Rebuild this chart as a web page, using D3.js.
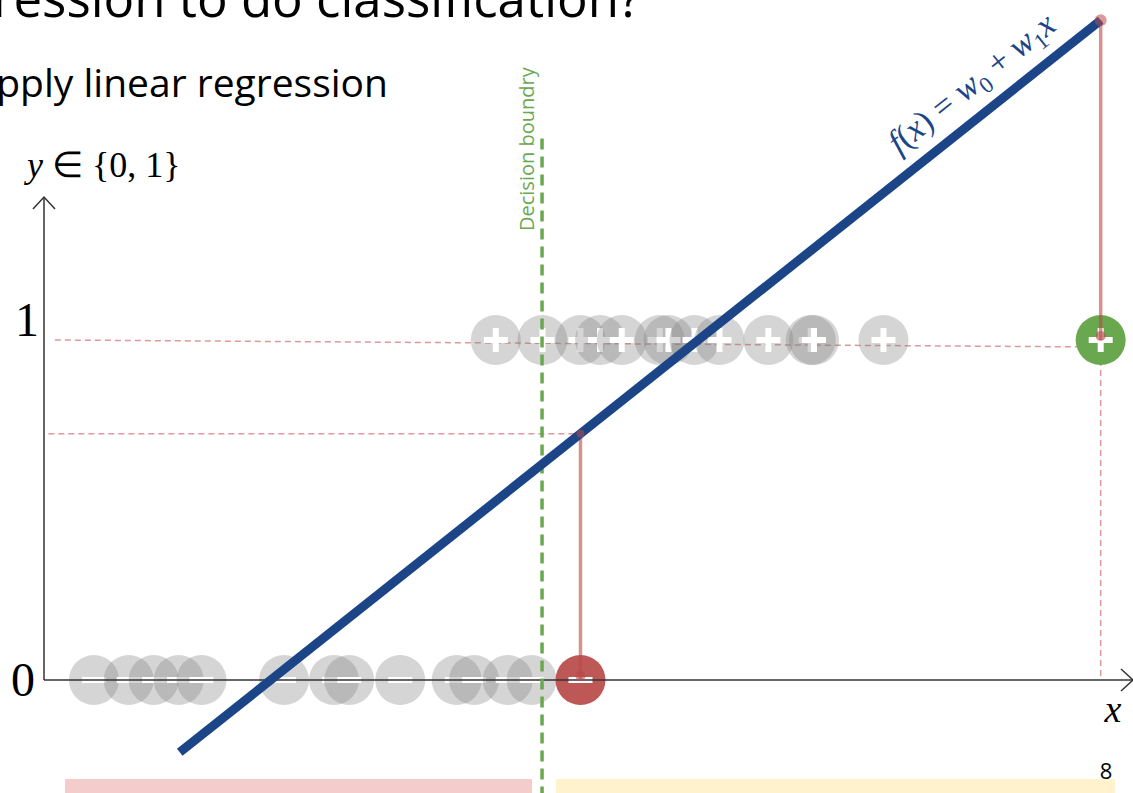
<!DOCTYPE html>
<html>
<head>
<meta charset="utf-8">
<script src="https://cdn.jsdelivr.net/npm/d3@7"></script>
<style>
  body { margin: 0; background: #fff; overflow: hidden; }
  svg { display: block; }
</style>
</head>
<body>
<div id="chart"></div>
<script>
// points on the y = 0 line (negative class) and y = 1 line (positive class)
const negX = [0.46, 0.78, 1.01, 1.24, 1.45, 2.21, 2.67, 2.81, 3.28, 3.80, 3.96, 4.27, 4.49];
const posX = [4.16, 4.59, 4.94, 5.12, 5.32, 5.67, 5.75, 5.99, 6.22, 6.67, 7.06, 7.09, 7.73];
// highlighted points
const redPoint = { x: 4.94, y: 0 };
const greenPoint = { x: 9.73, y: 1 };
// fitted line f(x) = w0 + w1 x
const w0 = -0.530;
const w1 = 0.2539;
const lineRange = [1.25, 9.73];
const boundaryX = 4.586;
const yTicks = [0, 1];

const width = 1133;
const height = 793;

const x = d3.scaleLinear().domain([0, 10]).range([44, 1130]);
const y = d3.scaleLinear().domain([0, 1]).range([680, 340]);
const f = v => w0 + w1 * v;

const svg = d3.select('#chart')
  .append('svg')
  .attr('width', width)
  .attr('height', height);

// title texts (cut by the page edge as in the slide)
svg.append('text')
  .text('Can we use linear regression to do classification?')
  .attr('x', 641)
  .attr('y', 17)
  .attr('text-anchor', 'end')
  .style('font-family', 'Open Sans')
  .style('font-size', '51px')
  .style('fill', '#000');

svg.append('text')
  .text('Apply linear regression')
  .attr('x', 388)
  .attr('y', 97)
  .attr('text-anchor', 'end')
  .style('font-family', 'Open Sans')
  .style('font-size', '39px')
  .style('fill', '#000');

// page number + bottom bars
svg.append('text')
  .text('8')
  .attr('x', 1106)
  .attr('y', 779)
  .attr('text-anchor', 'middle')
  .style('font-family', 'Open Sans')
  .style('font-size', '22px');

svg.append('rect')
  .attr('x', 65).attr('y', 779)
  .attr('width', 467).attr('height', 14)
  .style('fill', '#f4cccc');

svg.append('rect')
  .attr('x', 556).attr('y', 779)
  .attr('width', 559).attr('height', 14)
  .style('fill', '#fff2cc');

// dashed guide lines
const pinkDash = '#dd9a9a';
svg.append('line')
  .attr('x1', x(0.10)).attr('x2', x(greenPoint.x))
  .attr('y1', y(1)).attr('y2', y(1) + 7)
  .style('stroke', pinkDash)
  .style('stroke-width', 1.5)
  .style('stroke-dasharray', '6,4');

svg.append('line')
  .attr('x1', x(0.04)).attr('x2', x(redPoint.x))
  .attr('y1', y(f(redPoint.x))).attr('y2', y(f(redPoint.x)))
  .style('stroke', pinkDash)
  .style('stroke-width', 1.5)
  .style('stroke-dasharray', '6,4');

svg.append('line')
  .attr('x1', x(greenPoint.x)).attr('x2', x(greenPoint.x))
  .attr('y1', y(greenPoint.y)).attr('y2', y(0))
  .style('stroke', pinkDash)
  .style('stroke-width', 1.5)
  .style('stroke-dasharray', '6,4');

// y axis label
const yl = svg.append('text')
  .attr('x', 27)
  .attr('y', 177)
  .style('font-family', 'Liberation Serif')
  .style('font-size', '36px');
yl.append('tspan').text('y').style('font-style', 'italic');
yl.append('tspan').text(' \u2208 {0, 1}');

// tick labels
svg.selectAll('.ytick')
  .data(yTicks)
  .enter()
  .append('text')
  .attr('class', 'ytick')
  .text(d => d)
  .attr('x', d => (d === 1 ? 27 : 23))
  .attr('y', d => y(d) + (d === 1 ? -4 : 16))
  .attr('text-anchor', 'middle')
  .style('font-family', 'Liberation Serif')
  .style('font-size', '48px');

svg.append('text')
  .text('x')
  .attr('x', 1113)
  .attr('y', 722)
  .attr('text-anchor', 'middle')
  .style('font-family', 'Liberation Serif')
  .style('font-style', 'italic')
  .style('font-size', '38px');

// drawing a plus / minus glyph
function drawSign(g, plus) {
  g.append('rect')
    .attr('x', -12).attr('y', -3)
    .attr('width', 24).attr('height', 6)
    .style('fill', '#fff');
  if (plus) {
    g.append('rect')
      .attr('x', -3).attr('y', -12)
      .attr('width', 6).attr('height', 24)
      .style('fill', '#fff');
  }
}

function drawPoint(px, py, plus, fill, opacity) {
  const g = svg.append('g')
    .attr('transform', 'translate(' + x(px) + ',' + y(py) + ')');
  g.append('circle')
    .attr('r', 25)
    .style('fill', fill)
    .style('fill-opacity', opacity);
  drawSign(g, plus);
}

negX.forEach(v => drawPoint(v, 0, false, '#808080', 0.33));
posX.forEach(v => drawPoint(v, 1, true, '#808080', 0.33));

drawPoint(redPoint.x, redPoint.y, false, '#b94a48', 0.92);
drawPoint(greenPoint.x, greenPoint.y, true, '#6aa84f', 1);

// axes
svg.append('line')
  .attr('x1', x(0)).attr('x2', x(0))
  .attr('y1', y(0)).attr('y2', 197)
  .style('stroke', '#333').style('stroke-width', 1.5);
svg.append('path')
  .attr('d', 'M' + (x(0) - 11) + ',' + 209 + 'L' + x(0) + ',' + 197 + 'L' + (x(0) + 11) + ',' + 209)
  .style('fill', 'none').style('stroke', '#333').style('stroke-width', 1.5);

svg.append('line')
  .attr('x1', x(0)).attr('x2', 1133)
  .attr('y1', y(0)).attr('y2', y(0))
  .style('stroke', '#333').style('stroke-width', 1.5);
svg.append('path')
  .attr('d', 'M' + 1121 + ',' + (y(0) - 11) + 'L' + 1133 + ',' + y(0) + 'L' + 1121 + ',' + (y(0) + 11))
  .style('fill', 'none').style('stroke', '#333').style('stroke-width', 1.5);

// residual stems
const stems = [redPoint, greenPoint];
svg.selectAll('.stem')
  .data(stems)
  .enter()
  .append('line')
  .attr('class', 'stem')
  .attr('x1', d => x(d.x)).attr('x2', d => x(d.x))
  .attr('y1', d => y(d.y)).attr('y2', d => y(f(d.x)))
  .style('stroke', '#b94a48')
  .style('stroke-opacity', 0.6)
  .style('stroke-width', 3.5);

// decision boundary
svg.append('line')
  .attr('x1', x(boundaryX)).attr('x2', x(boundaryX))
  .attr('y1', y(1.593)).attr('y2', y(-0.34))
  .style('stroke', '#6aa84f')
  .style('stroke-width', 3.5)
  .style('stroke-dasharray', '11,7');

svg.append('text')
  .text('Decision boundry')
  .attr('transform', 'translate(' + (x(boundaryX) - 8) + ',' + 231 + ') rotate(-90)')
  .style('font-family', 'Open Sans')
  .style('font-size', '20px')
  .style('fill', '#6aa84f');

// fitted line
const lineData = lineRange.map(v => ({ x: v, y: f(v) }));
svg.append('path')
  .datum(lineData)
  .attr('d', d3.line().x(d => x(d.x)).y(d => y(d.y)))
  .style('fill', 'none')
  .style('stroke', '#1c4587')
  .style('stroke-width', 9);

// endpoint dots on stems
svg.selectAll('.dotTop')
  .data(stems)
  .enter()
  .append('circle')
  .attr('cx', d => x(d.x))
  .attr('cy', d => y(f(d.x)))
  .attr('r', d => (d === greenPoint ? 6 : 4))
  .style('fill', '#b94a48')
  .style('fill-opacity', 0.55);

svg.selectAll('.dotBottom')
  .data(stems)
  .enter()
  .append('circle')
  .attr('cx', d => x(d.x))
  .attr('cy', d => y(d.y) - 4)
  .attr('r', 5)
  .style('fill', '#b94a48')
  .style('fill-opacity', 0.6);

// formula along the line
const angle = Math.atan2(y(f(9)) - y(f(5)), x(9) - x(5)) * 180 / Math.PI;
const formula = svg.append('text')
  .attr('transform', 'translate(899,155) rotate(' + angle + ')')
  .style('font-family', 'Liberation Serif')
  .style('font-size', '34px')
  .style('fill', '#1c4587');
formula.append('tspan').text('f').style('font-style', 'italic');
formula.append('tspan').text('(');
formula.append('tspan').text('x').style('font-style', 'italic');
formula.append('tspan').text(') = ');
formula.append('tspan').text('w').style('font-style', 'italic');
formula.append('tspan').text('0').attr('dy', 7).style('font-size', '23px');
formula.append('tspan').text(' + ').attr('dy', -7);
formula.append('tspan').text('w').style('font-style', 'italic');
formula.append('tspan').text('1').attr('dy', 7).style('font-size', '23px');
formula.append('tspan').text('x').attr('dy', -7).style('font-style', 'italic');
</script>
</body>
</html>
